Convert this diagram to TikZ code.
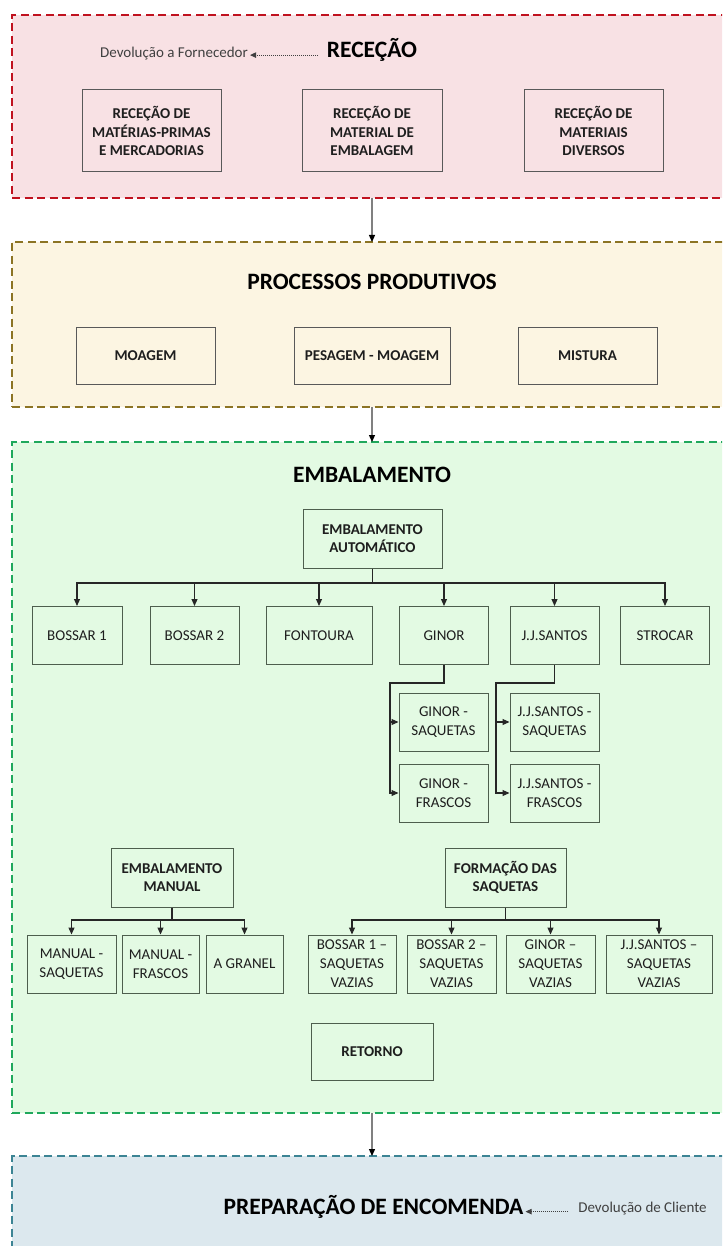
\documentclass[tikz,border=0pt]{standalone}
\usepackage{fontspec}
\setmainfont{Carlito}
\usetikzlibrary{arrows.meta}

\definecolor{recfill}{HTML}{F8E1E4}
\definecolor{recline}{HTML}{C0121F}
\definecolor{prodfill}{HTML}{FCF5E2}
\definecolor{prodline}{HTML}{8C7424}
\definecolor{embfill}{HTML}{E3FAE3}
\definecolor{embline}{HTML}{1FA85C}
\definecolor{prepfill}{HTML}{DCE8EE}
\definecolor{prepline}{HTML}{3C8494}
\definecolor{boxline}{HTML}{595959}
\definecolor{greenbox}{HTML}{4E5E4E}
\definecolor{boxtext}{HTML}{1E1E1E}
\definecolor{linkcol}{HTML}{262626}
\definecolor{flowgray}{HTML}{808080}
\definecolor{notetext}{HTML}{404040}

\begin{document}
\begin{tikzpicture}[x=1pt,y=-1pt,
  panel/.style={line width=2pt, dash pattern=on 8pt off 4.5pt,
    minimum width=748pt, outer sep=0pt, inner sep=0pt},
  bx/.style={draw=boxline, line width=1pt, align=center, inner sep=0pt,
    text=boxtext, font=\fontsize{15}{19}\selectfont},
  gbx/.style={bx, draw=greenbox},
  bxb/.style={bx, font=\fontsize{15}{18.5}\selectfont\bfseries},
  gbxb/.style={bxb, draw=greenbox},
  hdr/.style={font=\fontsize{23.5}{27}\selectfont\bfseries, text=black,
    anchor=base, inner sep=2pt},
  note/.style={font=\fontsize{15}{17}\selectfont, text=notetext,
    anchor=base, inner sep=2pt},
  flow/.style={draw=flowgray, line width=1.2pt,
    -{Triangle[length=7pt,width=6pt,color=black]}},
  link/.style={draw=linkcol, line width=1.1pt},
  arr/.style={link, -{Triangle[length=7pt,width=6pt]}},
  back/.style={draw=notetext, line width=0.9pt, dash pattern=on 1pt off 1pt,
    -{Triangle[length=6pt,width=5.5pt]}}
]
\useasboundingbox (0,0) rectangle (722,1246);
\clip (0,0) rectangle (722,1246);

% ---------- RECEÇÃO ----------
\node[panel, draw=recline, fill=recfill, minimum height=183pt] (rec) at (386,106.5) {};
\node[hdr] (hrec) at (372,57.5) {RECEÇÃO};
\node[note] (devf) at (174,57.5) {Devolução a Fornecedor};
\draw[back, shorten <=7pt] (hrec.mid west) -- (hrec.mid west -| devf.east);
\node[bxb, minimum width=139pt, minimum height=82pt] (r1) at (151.5,131) {RECEÇÃO DE\\MATÉRIAS-PRIMAS\\E MERCADORIAS};
\node[bxb, minimum width=140pt, minimum height=82pt] (r2) at (372,131) {RECEÇÃO DE\\MATERIAL DE\\EMBALAGEM};
\node[bxb, minimum width=139pt, minimum height=82pt] (r3) at (593.5,131) {RECEÇÃO DE\\MATERIAIS\\DIVERSOS};

% ---------- PROCESSOS PRODUTIVOS ----------
\node[panel, draw=prodline, fill=prodfill, minimum height=165pt] (prod) at (386,324.5) {};
\node[hdr] (hprod) at (372,290) {PROCESSOS PRODUTIVOS};
\node[bxb, minimum width=139pt, minimum height=57pt] (p1) at (145.5,355.5) {MOAGEM};
\node[bxb, minimum width=156pt, minimum height=57pt] (p2) at (372,355.5) {PESAGEM - MOAGEM};
\node[bxb, minimum width=139pt, minimum height=57pt] (p3) at (587.5,355.5) {MISTURA};

% ---------- EMBALAMENTO ----------
\node[panel, draw=embline, fill=embfill, minimum height=671pt] (emb) at (386,777.5) {};
\node[hdr] (hemb) at (372,482) {EMBALAMENTO};

% automatic packing
\node[gbxb, minimum width=139pt, minimum height=59pt] (auto) at (372.5,538.5) {EMBALAMENTO\\AUTOMÁTICO};
\node[gbx, minimum width=90pt, minimum height=58pt] (b1) at (77,635.5) {BOSSAR 1};
\node[gbx, minimum width=89pt, minimum height=58pt] (b2) at (194.5,635.5) {BOSSAR 2};
\node[gbx, minimum width=106pt, minimum height=58pt] (fo) at (319,635.5) {FONTOURA};
\node[gbx, minimum width=89pt, minimum height=58pt] (gi) at (444,635.5) {GINOR};
\node[gbx, minimum width=89pt, minimum height=58pt] (jj) at (554.5,635.5) {J.J.SANTOS};
\node[gbx, minimum width=89pt, minimum height=58pt] (st) at (665,635.5) {STROCAR};

\node[gbx, minimum width=89pt, minimum height=58pt] (gs) at (443.5,722) {GINOR -\\SAQUETAS};
\node[gbx, minimum width=89pt, minimum height=58pt] (gf) at (443.5,793) {GINOR -\\FRASCOS};
\node[gbx, minimum width=89pt, minimum height=58pt] (js) at (554.5,722) {J.J.SANTOS -\\SAQUETAS};
\node[gbx, minimum width=89pt, minimum height=58pt] (jf) at (554.5,793) {J.J.SANTOS -\\FRASCOS};

\coordinate (abus) at (372.5,583);
\draw[link] (auto.south) -- (abus);
\foreach \n in {b1,b2,fo,gi,jj,st}
  \draw[arr] (abus) -| (\n.north);

\coordinate (gbend) at (390,683);
\draw[arr] (gi.south) |- (gbend) |- (gf.west);
\draw[arr] (gbend |- gs.west) -- (gs.west);
\coordinate (jbend) at (496,683);
\draw[arr] (jj.south) |- (jbend) |- (jf.west);
\draw[arr] (jbend |- js.west) -- (js.west);

% manual packing
\node[gbxb, minimum width=122pt, minimum height=59pt] (man) at (172,877.5) {EMBALAMENTO\\MANUAL};
\node[gbx, minimum width=89pt, minimum height=58pt] (ms) at (71.5,964) {MANUAL -\\SAQUETAS};
\node[gbx, minimum width=77pt, minimum height=58pt] (mf) at (160.5,964) {MANUAL -\\FRASCOS};
\node[gbx, minimum width=77pt, minimum height=58pt] (ag) at (244.5,964) {A GRANEL};
\coordinate (mbus) at (172,920);
\draw[link] (man.south) -- (mbus);
\foreach \n in {ms,mf,ag}
  \draw[arr] (mbus) -| (\n.north);

% sachet forming
\node[gbxb, minimum width=121pt, minimum height=59pt] (form) at (505.5,877.5) {FORMAÇÃO DAS\\SAQUETAS};
\node[gbx, minimum width=88pt, minimum height=58pt] (v1) at (352,964) {BOSSAR 1 –\\SAQUETAS\\VAZIAS};
\node[gbx, minimum width=89pt, minimum height=58pt] (v2) at (451.5,964) {BOSSAR 2 –\\SAQUETAS\\VAZIAS};
\node[gbx, minimum width=89pt, minimum height=58pt] (v3) at (550.5,964) {GINOR –\\SAQUETAS\\VAZIAS};
\node[gbx, minimum width=106pt, minimum height=58pt] (v4) at (659,964) {J.J.SANTOS –\\SAQUETAS\\VAZIAS};
\coordinate (fbus) at (505.5,920);
\draw[link] (form.south) -- (fbus);
\foreach \n in {v1,v2,v3,v4}
  \draw[arr] (fbus) -| (\n.north);

\node[gbxb, minimum width=122pt, minimum height=57pt] (retorno) at (372,1051.5) {RETORNO};

% ---------- PREPARAÇÃO DE ENCOMENDA ----------
\node[panel, draw=prepline, fill=prepfill, minimum height=144pt] (prep) at (386,1228) {};
\node[hdr] (hprep) at (373.5,1214) {PREPARAÇÃO DE ENCOMENDA};
\node[note] (devc) at (642.5,1212) {Devolução de Cliente};
\draw[back, shorten <=8pt] (devc.west |- hprep.mid east) -- (hprep.mid east);

% ---------- flow between stages ----------
\draw[flow] (rec.south -| hrec) -- (prod.north -| hrec);
\draw[flow] (prod.south -| hrec) -- (emb.north -| hrec);
\draw[flow] (emb.south -| hrec) -- (prep.north -| hrec);
\end{tikzpicture}
\end{document}
